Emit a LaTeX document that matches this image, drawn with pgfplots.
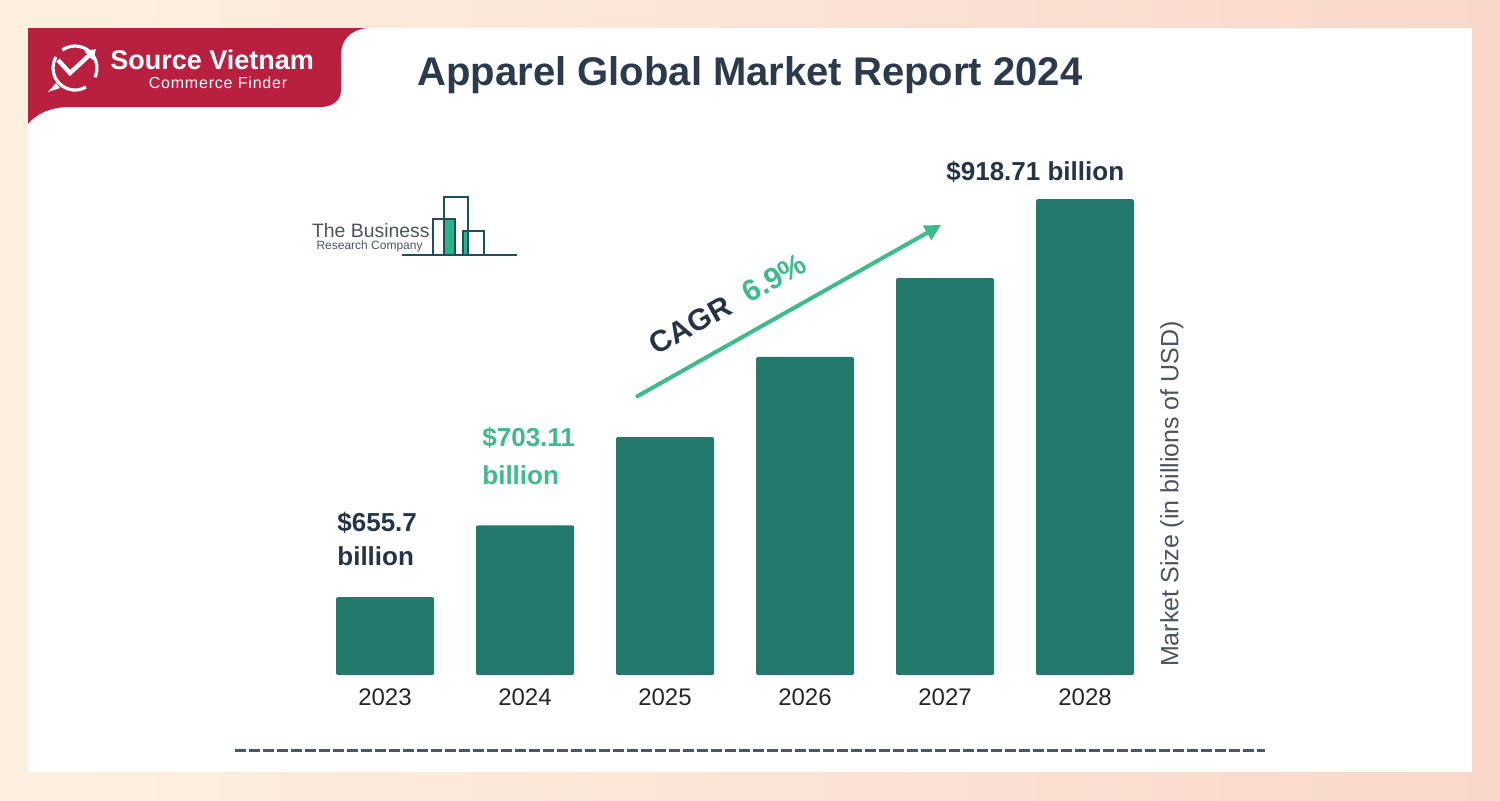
\documentclass[border=0pt]{standalone}
\usepackage{pgfplots}
\pgfplotsset{compat=1.18}
\usepackage{fontspec}
\setmainfont{Liberation Sans}
\usetikzlibrary{arrows.meta}
\definecolor{barc}{HTML}{237A6C}
\definecolor{bgL}{HTML}{FDF0E0}
\definecolor{bgR}{HTML}{F9D8CB}
\definecolor{badge}{HTML}{B91F3F}
\definecolor{dark}{HTML}{253548}
\definecolor{titlec}{HTML}{2B3A4C}
\definecolor{accent}{HTML}{3DBB8A}
\definecolor{labgray}{HTML}{4A5560}
\definecolor{logoline}{HTML}{1F4E5F}
\definecolor{logofill}{HTML}{2DB38A}
\definecolor{dashc}{HTML}{4A5868}
\begin{document}
\begin{tikzpicture}[x=0.5pt,y=-0.5pt]
\shade[left color=bgL,right color=bgR] (0,0) rectangle (1500,800);
\fill[white] (28,28) rectangle (1472,772);
% badge
\fill[badge] (28,28) -- (367,28) .. controls (350,30) and (341,40) .. (341,55) -- (341,90) .. controls (341,101) and (332,107) .. (320,107) -- (70,107) .. controls (50,107) and (36,114) .. (28,124) -- cycle;
% icon
\draw[white, line width=1.6pt] (75,68) ++(60:22) arc[start angle=60, end angle=210, radius=22];
\draw[white, line width=1.6pt] (75,68) ++(235:22) arc[start angle=235, end angle=385, radius=22];
\draw[white, line width=2.2pt, -{Triangle[length=5pt,width=6pt]}] (58,60) -- (70,73) -- (96,49);
\fill[white] (60,88) -- (48,92) -- (56,83) -- cycle;
\node[white, font=\bfseries\fontsize{13.5}{16}\selectfont, anchor=west, inner sep=0pt] at (110,60) {Source Vietnam};
\node[white, font=\fontsize{8}{10}\selectfont\addfontfeatures{LetterSpace=5}, inner sep=0pt] at (218,83) {Commerce Finder};
% title
\node[titlec, font=\bfseries\fontsize{20}{24}\selectfont] at (750,75) {Apparel Global Market Report 2024};
% logo
\fill[logofill] (444,219) rectangle (454,255);
\fill[logofill] (463,231) rectangle (468,255);
\draw[logoline, line width=1pt] (402,255) -- (517,255);
\draw[logoline, line width=1pt] (433,255) -- (433,219) -- (455,219) -- (455,255);
\draw[logoline, line width=1pt] (444,255) -- (444,197) -- (468,197) -- (468,255);
\draw[logoline, line width=1pt] (463,255) -- (463,231) -- (484,231) -- (484,255);
\node[labgray, font=\fontsize{9.7}{11}\selectfont, anchor=east, inner sep=0pt] at (430,231) {The Business};
\node[labgray, font=\fontsize{6}{7}\selectfont, anchor=east, inner sep=0pt] at (423,246) {Research Company};
% chart
\begin{axis}[at={(157.5pt,-337.5pt)}, anchor=south west, scale only axis,
  width=420pt, height=262.5pt, xmin=-0.5, xmax=5.5, ymin=604.2, ymax=951.2,
  ybar, bar width=49pt,
  axis line style={draw=none}, tick style={draw=none},
  xtick={0,1,2,3,4,5}, xticklabels={2023,2024,2025,2026,2027,2028},
  ytick=\empty,
  xticklabel style={font=\fontsize{12}{14}\selectfont, text=black!85, yshift=1pt},
  clip=true]
\addplot[fill=barc, draw=none, rounded corners=1pt] coordinates {(0,655.7) (1,703.11) (2,761.5) (3,814.4) (4,866.6) (5,918.71)};
\end{axis}
% value labels
\node[dark, font=\bfseries\fontsize{13}{17}\selectfont, anchor=west, align=left, inner sep=0pt] at (337,539) {\$655.7\\billion};
\node[accent, font=\bfseries\fontsize{13}{19}\selectfont, anchor=west, align=left, inner sep=0pt] at (482,456) {\$703.11\\billion};
\node[dark, font=\bfseries\fontsize{13}{15}\selectfont, anchor=west, inner sep=0pt] at (946,172) {\$918.71 billion};
% CAGR arrow
\draw[accent, line width=2pt, -{Triangle[length=8pt,width=8pt]}] (636,397) -- (941,225);
\node[rotate=29.4, font=\bfseries\fontsize{15}{18}\selectfont] at (728,304) {\textcolor{dark}{CAGR}\hspace{0.6em}\textcolor{accent}{6.9\%}};
% y label
\node[rotate=90, labgray, font=\fontsize{12.5}{15}\selectfont] at (1172,494) {Market Size (in billions of USD)};
% dashed line
\draw[dashc, line width=1.5pt, dash pattern=on 5.5pt off 1.5pt] (235,750) -- (1265,750);
\end{tikzpicture}
\end{document}
